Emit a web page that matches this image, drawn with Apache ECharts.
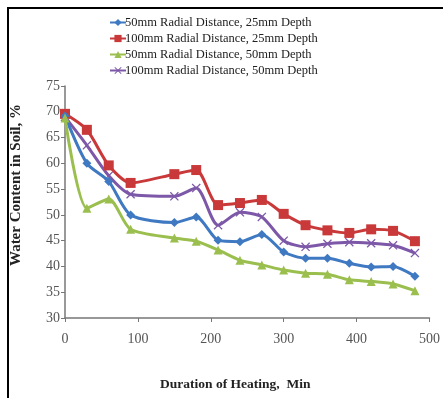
<!DOCTYPE html>
<html><head><meta charset="utf-8">
<script src="https://cdn.jsdelivr.net/npm/echarts@6/dist/echarts.min.js"></script>
<style>html,body{margin:0;padding:0;background:#fff}#c{width:443px;height:398px}</style>
</head><body><div id="c"></div>
<script>
var minutes = [0, 30, 60, 90, 150, 180, 210, 240, 270, 300, 330, 360, 390, 420, 450, 480];
var seriesNames = ['50mm Radial Distance, 25mm Depth', '100mm Radial Distance, 25mm Depth', '50mm Radial Distance, 50mm Depth', '100mm Radial Distance, 50mm Depth'];
var r50d25 = [69.2, 60.0, 56.5, 50.0, 48.5, 49.6, 45.1, 44.8, 46.2, 42.8, 41.6, 41.6, 40.6, 39.9, 40.0, 38.1];
var r100d25 = [69.6, 66.5, 59.6, 56.2, 57.9, 58.7, 51.9, 52.3, 52.9, 50.2, 48.0, 47.0, 46.5, 47.2, 46.9, 44.9];
var r50d50 = [68.8, 51.3, 53.1, 47.2, 45.5, 44.9, 43.2, 41.2, 40.3, 39.3, 38.7, 38.5, 37.4, 37.1, 36.6, 35.3];
var r100d50 = [69.0, 63.5, 57.6, 54.0, 53.6, 55.2, 48.0, 50.5, 49.6, 45.0, 43.8, 44.4, 44.7, 44.5, 44.1, 42.6];
var yTicks = [30, 35, 40, 45, 50, 55, 60, 65, 70, 75];
var xTicks = [0, 100, 200, 300, 400, 500];

function pairs(vals){ return minutes.map(function(m,i){ return [m, vals[i]]; }); }
var xPath = 'path://M0,1 L1,0 L5,4 L9,0 L10,1 L6,5 L10,9 L9,10 L5,6 L1,10 L0,9 L4,5 Z';
var colors = ['#3f79c2', '#c9393a', '#9bbf4f', '#7d58a8'];
var symbols = ['diamond', 'rect', 'triangle', xPath];
var sizes = [9, 10, 9, 9];
var datas = [r50d25, r100d25, r50d50, r100d50];
var serif = 'Liberation Serif';

var chart = echarts.init(document.getElementById('c'));
chart.setOption({
  animation: false,
  backgroundColor: '#fff',
  textStyle: { fontFamily: serif },
  graphic: [
    { type: 'line', shape: { x1: 8, y1: 8, x2: 443, y2: 8 }, style: { stroke: '#000', lineWidth: 2 }, silent: true },
    { type: 'line', shape: { x1: 8, y1: 7, x2: 8, y2: 398 }, style: { stroke: '#000', lineWidth: 2 }, silent: true }
  ],
  legend: {
    orient: 'vertical', left: 104, top: 11, itemGap: 3, itemWidth: 16, itemHeight: 9,
    textStyle: { fontFamily: serif, fontSize: 12.5, color: '#222', padding: [0,0,0,-6] },
    data: seriesNames
  },
  grid: { left: 65, right: 13, top: 86, bottom: 80 },
  xAxis: {
    type: 'value', min: 0, max: 500, interval: 100,
    name: 'Duration of Heating,  Min', nameLocation: 'middle', nameGap: 60,
    nameTextStyle: { fontFamily: serif, fontWeight: 'bold', fontSize: 13.5, color: '#222', padding: [0, 24, 0, 0] },
    axisLine: { show: true, lineStyle: { color: '#777', width: 1.5 } },
    axisTick: { show: true, length: 4, lineStyle: { color: '#777' } },
    axisLabel: { fontFamily: serif, fontSize: 14, color: '#555', margin: 14, formatter: function(v){ return xTicks.indexOf(v) >= 0 ? String(v) : ''; } },
    splitLine: { show: false }
  },
  yAxis: {
    type: 'value', min: 30, max: 75, interval: 5,
    name: 'Water Content in Soil, %', nameLocation: 'middle', nameGap: 41,
    nameTextStyle: { fontFamily: serif, fontWeight: 'bold', fontSize: 15, color: '#222', padding: [0, 0, 0, 34] },
    axisLine: { show: true, lineStyle: { color: '#777', width: 1.5 } },
    axisTick: { show: true, length: 4, lineStyle: { color: '#777' } },
    axisLabel: { fontFamily: serif, fontSize: 14, color: '#555', margin: 5, formatter: function(v){ return yTicks.indexOf(v) >= 0 ? String(v) : ''; } },
    splitLine: { show: false }
  },
  series: seriesNames.map(function(n, i){
    return {
      name: n, type: 'line', smooth: 0.25, data: pairs(datas[i]),
      symbol: symbols[i], symbolSize: sizes[i], z: [3,2,4,1][i] ,
      lineStyle: { color: colors[i], width: 3 },
      itemStyle: { color: colors[i] }
    };
  })
});
</script></body></html>
